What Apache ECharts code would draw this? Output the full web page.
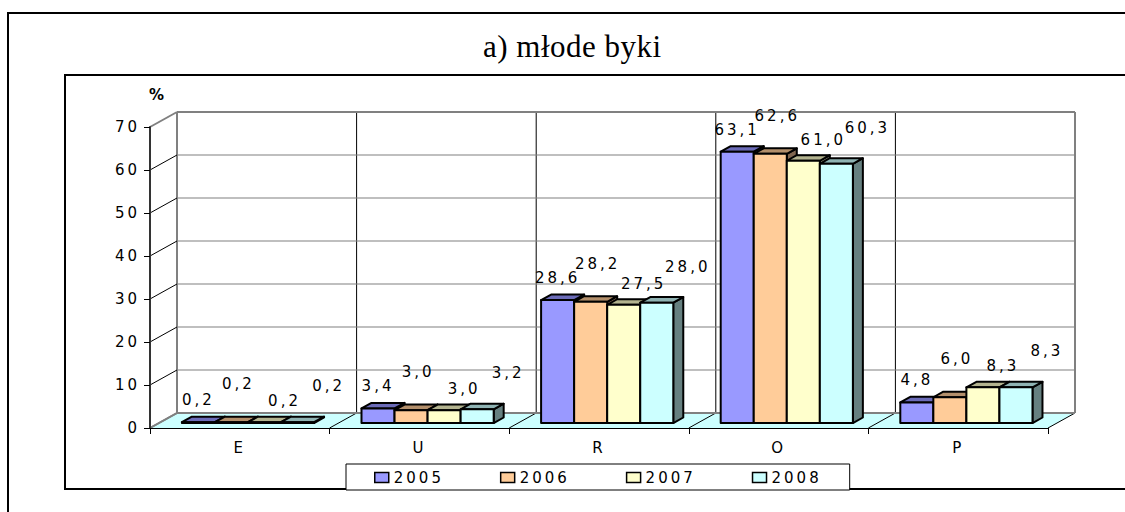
<!DOCTYPE html>
<html>
<head>
    <meta charset="utf-8">
    <title>młode byki</title>
    <style>
        body{
            margin: 0;
            padding: 0;
            background: #fff;
        }
        #container{
            width: 1125px;
            height: 512px;
        }
        /* Excel rozstrzela cyfry i litery */
        #container text{
            letter-spacing: 3px;
        }
        #container text[style*="Serif"]{
            letter-spacing: 0.5px;
        }
    </style>
</head>
<body>
    <div id="container"></div>

    <script src="https://cdn.jsdelivr.net/npm/echarts@6/dist/echarts.min.js"></script>
    <script type="text/javascript">
    // dane
    var categories = ['E', 'U', 'R', 'O', 'P'];
    var years = ['2005', '2006', '2007', '2008'];
    var v2005 = [0.2, 3.4, 28.6, 63.1, 4.8];
    var v2006 = [0.2, 3.0, 28.2, 62.6, 6.0];
    var v2007 = [0.2, 3.0, 27.5, 61.0, 8.3];
    var v2008 = [0.2, 3.2, 28.0, 60.3, 8.3];
    var yTicks = [0, 10, 20, 30, 40, 50, 60, 70];

    var seriesValues = [v2005, v2006, v2007, v2008];

    // wygląd "3D" jak w Excelu
    var frontColors = ['#9999FF', '#FFCC99', '#FFFFCC', '#CCFFFF'];
    var topColors = ['#6B6BB8', '#B38F6B', '#B3B38F', '#8FB3B3'];
    var sideColors = ['#4D4D80', '#806650', '#80806A', '#668080'];
    var DEPTH = [27, -15];      // przesunięcie tylnej ściany
    var BAR_FRONT = 0.33;       // głębokość przedniej ściany słupka
    var BAR_DEPTH = 0.37;       // grubość słupka
    var BAR_GAP = 0.128;        // odstęp od krawędzi kategorii
    var BAR_W = 0.184;          // szerokość słupka
    var labelShift = [[0, -22], [7, -38], [20, -21], [31, -36]];
    var FONT = '"DejaVu Sans", Arial, sans-serif';

    function fmt(v) {
        return v.toFixed(1).replace('.', ',');
    }

    // podłoga + pionowe linie tylnej ściany
    function renderFloor(params, api) {
        var i = api.value(0);
        var bw = api.size([1, 0])[0];
        var c = api.coord([i, 0]);
        var top = api.coord([i, yTicks[yTicks.length - 1]])[1];
        var xl = c[0] - bw / 2, xr = c[0] + bw / 2, y = c[1];
        var dx = DEPTH[0], dy = DEPTH[1];
        var first = i === 0;
        var children = [
            {type: 'polygon', shape: {points: [[xl, y], [xr, y], [xr + dx, y + dy], [xl + dx, y + dy]]},
             style: {fill: '#CCFFFF', stroke: '#CCFFFF', lineWidth: 0.5}},
            {type: 'line', shape: {x1: xl, y1: y, x2: xl + dx, y2: y + dy},
             style: {stroke: first ? '#808080' : '#000', lineWidth: first ? 2 : 1}},
            {type: 'line', shape: {x1: xl + dx, y1: y + dy, x2: xl + dx, y2: top + dy},
             style: {stroke: first ? '#808080' : '#000', lineWidth: first ? 2 : 1}}
        ];
        if (i === categories.length - 1) {
            children.push({type: 'line', shape: {x1: xr, y1: y, x2: xr + dx, y2: y + dy},
                           style: {stroke: '#000', lineWidth: 1}});
            children.push({type: 'line', shape: {x1: xr + dx, y1: y + dy, x2: xr + dx, y2: top + dy},
                           style: {stroke: '#808080', lineWidth: 2}});
        }
        return {type: 'group', children: children};
    }

    // poziome linie siatki + skosy lewej ściany
    function renderWall(params, api) {
        var v = api.value(1);
        var bw = api.size([1, 0])[0];
        var a = api.coord([0, v]), b = api.coord([categories.length - 1, v]);
        var xl = a[0] - bw / 2, xr = b[0] + bw / 2, y = a[1];
        var dx = DEPTH[0], dy = DEPTH[1];
        var edge = v === yTicks[0] || v === yTicks[yTicks.length - 1];
        return {type: 'group', children: [
            {type: 'line', shape: {x1: xl + dx, y1: y + dy, x2: xr + dx, y2: y + dy},
             style: {stroke: '#808080', lineWidth: edge ? 2 : 1.2}},
            {type: 'line', shape: {x1: xl, y1: y, x2: xl + dx, y2: y + dy},
             style: {stroke: edge ? '#808080' : '#000', lineWidth: edge ? 2 : 1}}
        ]};
    }

    function barRenderer(s) {
        return function (params, api) {
            var cat = api.value(0), v = api.value(1);
            var bw = api.size([1, 0])[0];
            var p0 = api.coord([cat, 0]);
            var p1 = api.coord([cat, v]);
            var fx = DEPTH[0] * BAR_FRONT, fy = DEPTH[1] * BAR_FRONT;
            var dx = DEPTH[0] * BAR_DEPTH, dy = DEPTH[1] * BAR_DEPTH;
            var w = bw * BAR_W;
            var x = p0[0] - bw / 2 + bw * BAR_GAP + s * w + fx;
            var yb = p0[1] + fy, yt = p1[1] + fy;
            var edge = {stroke: '#000', lineWidth: 2, lineJoin: 'round'};
            return {type: 'group', children: [
                {type: 'polygon',
                 shape: {points: [[x + w, yt], [x + w + dx, yt + dy], [x + w + dx, yb + dy], [x + w, yb]]},
                 style: Object.assign({fill: sideColors[s]}, edge)},
                {type: 'polygon',
                 shape: {points: [[x, yt], [x + w, yt], [x + w + dx, yt + dy], [x + dx, yt + dy]]},
                 style: Object.assign({fill: topColors[s]}, edge)},
                {type: 'rect', shape: {x: x, y: yt, width: w, height: yb - yt},
                 style: Object.assign({fill: frontColors[s]}, edge)},
                {type: 'text', z2: 10,
                 x: x + w / 2 + labelShift[s][0], y: yt + labelShift[s][1],
                 style: {text: fmt(v), fill: '#000', font: '15px ' + FONT,
                         align: 'center', verticalAlign: 'middle'}}
            ]};
        };
    }

    var dom = document.getElementById('container');
    var myChart = echarts.init(dom, null, {renderer: 'svg'});

    var series = [
        {name: 'floor', type: 'custom', renderItem: renderFloor, clip: false, z: 1,
         silent: true, data: categories.map(function (c, i) { return [i, 0]; })},
        {name: 'wall', type: 'custom', renderItem: renderWall, clip: false, z: 1,
         silent: true, data: yTicks.map(function (v) { return [0, v]; })}
    ];
    years.forEach(function (yr, s) {
        series.push({
            name: yr,
            type: 'custom',
            renderItem: barRenderer(s),
            clip: false,
            z: 2,
            itemStyle: {color: frontColors[s]},
            data: seriesValues[s].map(function (v, i) { return [i, v]; })
        });
    });

    var option = {
        animation: false,
        backgroundColor: '#fff',
        title: {
            text: 'a) młode byki',
            left: 483,
            top: 31,
            padding: 0,
            textStyle: {
                fontFamily: '"Liberation Serif", serif',
                fontSize: 31,
                fontWeight: 'normal',
                color: '#000'
            }
        },
        graphic: [
            {type: 'rect', z: -1, shape: {x: 8, y: 13, width: 1200, height: 600},
             style: {fill: 'none', stroke: '#000', lineWidth: 2}},
            {type: 'rect', z: -1, shape: {x: 65, y: 75, width: 1100, height: 414},
             style: {fill: 'none', stroke: '#000', lineWidth: 2}}
        ],
        legend: {
            data: years,
            left: 346,
            top: 464,
            padding: [6, 40, 5, 28],
            itemGap: 68,
            itemWidth: 14,
            itemHeight: 10,
            icon: 'rect',
            backgroundColor: '#fff',
            borderColor: '#000',
            borderWidth: 1,
            itemStyle: {borderColor: '#000', borderWidth: 1.5},
            textStyle: {fontFamily: FONT, fontSize: 15, color: '#000'}
        },
        grid: {
            left: 150,
            top: 127,
            width: 898,
            height: 301
        },
        xAxis: {
            type: 'category',
            data: categories,
            boundaryGap: true,
            z: 5,
            axisLine: {lineStyle: {color: '#000', width: 1}},
            axisTick: {show: true, length: 6, lineStyle: {color: '#000'}},
            axisLabel: {color: '#000', fontSize: 15, fontFamily: FONT, margin: 12},
            splitLine: {show: false}
        },
        yAxis: {
            type: 'value',
            min: 0,
            max: 70,
            interval: 10,
            z: 5,
            name: '%',
            nameLocation: 'end',
            nameGap: 25,
            nameTextStyle: {fontWeight: 'bold', fontSize: 15, fontFamily: FONT, color: '#000',
                            padding: [0, 0, 0, 16]},
            axisLine: {show: true, lineStyle: {color: '#333', width: 2}},
            axisTick: {show: true, length: 6, lineStyle: {color: '#000'}},
            axisLabel: {color: '#000', fontSize: 15, fontFamily: FONT, margin: 10},
            splitLine: {show: false}
        },
        series: series
    };

    if (option && typeof option === 'object') {
        myChart.setOption(option, true);
    }
    </script>
</body>
</html>
